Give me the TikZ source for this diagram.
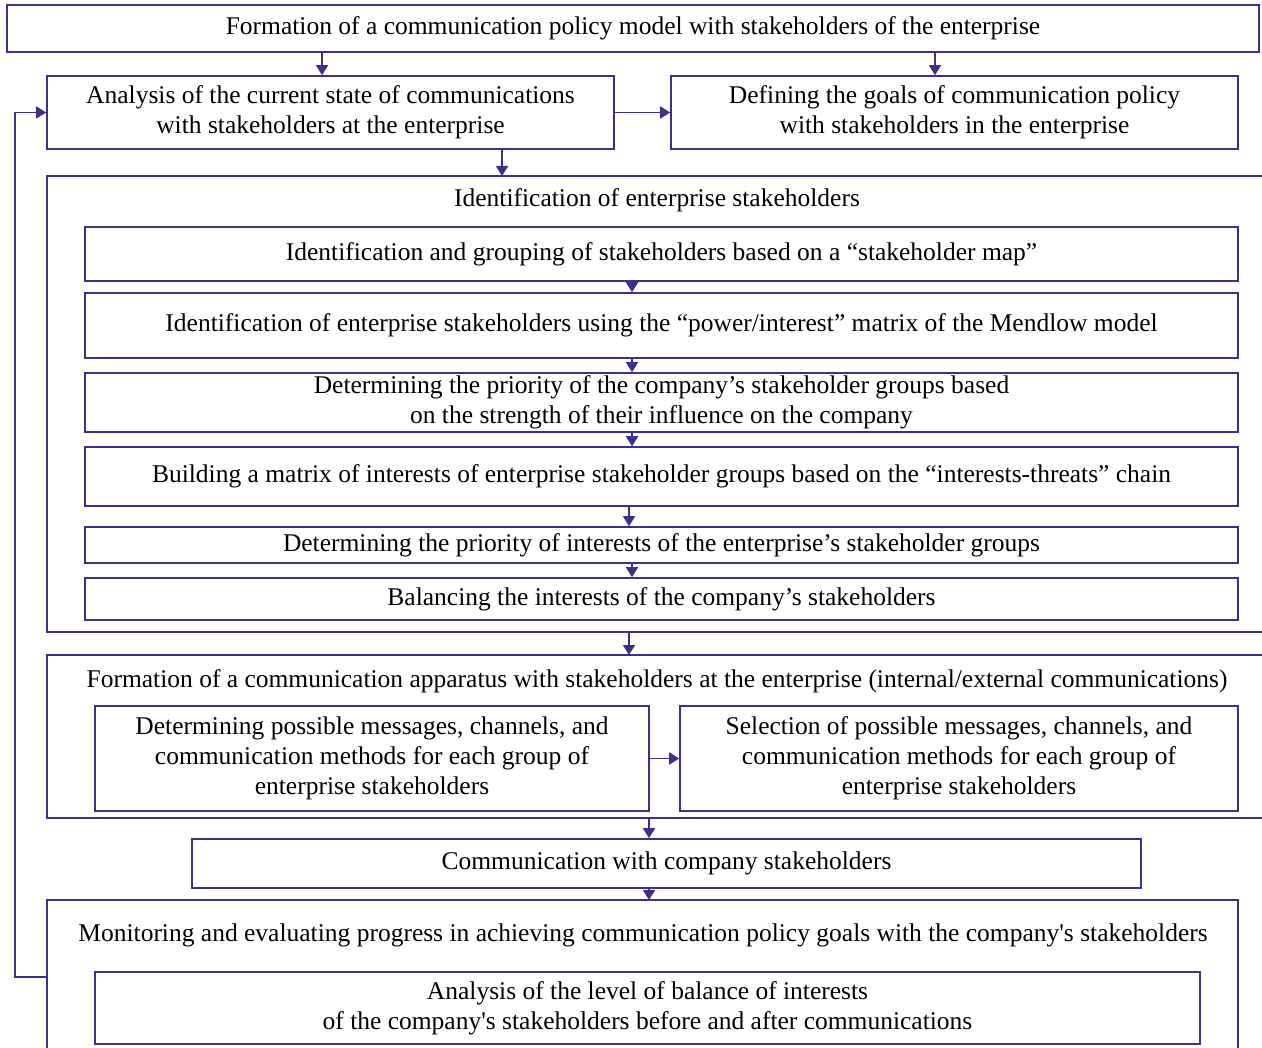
\documentclass[tikz,border=0pt]{standalone}
\usepackage{fontspec}
\setmainfont[Ligatures=TeXOff]{Liberation Serif}
\usetikzlibrary{arrows.meta}
\definecolor{lineviolet}{RGB}{64,46,138}

\begin{document}
\begin{tikzpicture}[x=0.5pt, y=-0.5pt,
  font=\fontsize{12.75}{15}\selectfont,
  box/.style={draw=lineviolet, line width=0.8pt, align=center, inner sep=0pt},
  frame/.style={draw=lineviolet, line width=0.8pt},
  arr/.style={lineviolet, line width=0.8pt, -{Triangle[length=5pt,width=6pt]}}]
\useasboundingbox (0,0) rectangle (1262,1048);
\node [box, minimum width=626pt, minimum height=23.5pt] (top) at (633,28.5)
  {Formation of a communication policy model with stakeholders of the enterprise};
\node [box, minimum width=283.5pt, minimum height=36.5pt] (ana) at (330.5,112.5)
  {Analysis of the current state of communications\\with stakeholders at the enterprise};
\node [box, minimum width=283.5pt, minimum height=36.5pt] (goal) at (954.5,112.5)
  {Defining the goals of communication policy\\with stakeholders in the enterprise};
\draw [frame] (1262,176) -- (47,176) -- (47,632) -- (1262,632);
\node (ident) at (657,200) {Identification of enterprise stakeholders};
\coordinate (idtop) at (502,176);
\coordinate (idbot) at (629,632);
\node [box, minimum width=576.5pt, minimum height=27pt] (s1) at (661.5,254)
  {Identification and grouping of stakeholders based on a “stakeholder map”};
\node [box, minimum width=576.5pt, minimum height=32.5pt] (s2) at (661.5,325.5)
  {Identification of enterprise stakeholders using the “power/interest” matrix of the Mendlow model};
\node [box, minimum width=576.5pt, minimum height=29.5pt] (s3) at (661.5,402.5)
  {Determining the priority of the company’s stakeholder groups based\\on the strength of their influence on the company};
\node [box, minimum width=576.5pt, minimum height=29.5pt] (s4) at (661.5,476.5)
  {Building a matrix of interests of enterprise stakeholder groups based on the “interests-threats” chain};
\node [box, minimum width=576.5pt, minimum height=18pt] (s5) at (661.5,545)
  {Determining the priority of interests of the enterprise’s stakeholder groups};
\node [box, minimum width=576.5pt, minimum height=21pt] (s6) at (661.5,599)
  {Balancing the interests of the company’s stakeholders};
\draw [frame] (1262,655) -- (47,655) -- (47,818) -- (1262,818);
\node (appar) at (657,681)
  {Formation of a communication apparatus with stakeholders at the enterprise (internal/external communications)};
\coordinate (aptop) at (629,655);
\coordinate (apbot) at (649,818);
\node [box, minimum width=277pt, minimum height=52.5pt] (m1) at (372,758.5)
  {Determining possible messages, channels, and\\communication methods for each group of\\enterprise stakeholders};
\node [box, minimum width=279pt, minimum height=52.5pt] (m2) at (959,758.5)
  {Selection of possible messages, channels, and\\communication methods for each group of\\enterprise stakeholders};
\node [box, minimum width=474.5pt, minimum height=24.5pt] (comm) at (666.5,863.5)
  {Communication with company stakeholders};
\draw [frame] (47,1048) -- (47,900) -- (1238,900) -- (1238,1048);
\node (monit) at (643,935)
  {Monitoring and evaluating progress in achieving communication policy goals with the company's stakeholders};
\coordinate (montop) at (649,900);
\coordinate (monl) at (47,977);
\node [box, minimum width=552.5pt, minimum height=36pt] (bal) at (647.5,1008)
  {Analysis of the level of balance of interests\\of the company's stakeholders before and after communications};
\draw [arr] (top.south -| 322,0) -- (ana.north -| 322,0);
\draw [arr] (top.south -| 935,0) -- (goal.north -| 935,0);
\draw [arr] (ana.east) -- (goal.west);
\draw [arr] (ana.south -| idtop) -- (idtop);
\foreach \a/\b/\x in {s1/s2/632, s2/s3/632, s3/s4/632, s4/s5/629, s5/s6/632}
  \draw [arr] (\a.south -| \x,0) -- (\b.north -| \x,0);
\draw [arr] (idbot) -- (aptop);
\draw [arr] (m1.east) -- (m2.west);
\draw [arr] (apbot) -- (comm.north -| apbot);
\draw [arr] (comm.south -| montop) -- (montop);
\draw [arr] (monl) -- (15,977) |- (ana.west);
\end{tikzpicture}
\end{document}
